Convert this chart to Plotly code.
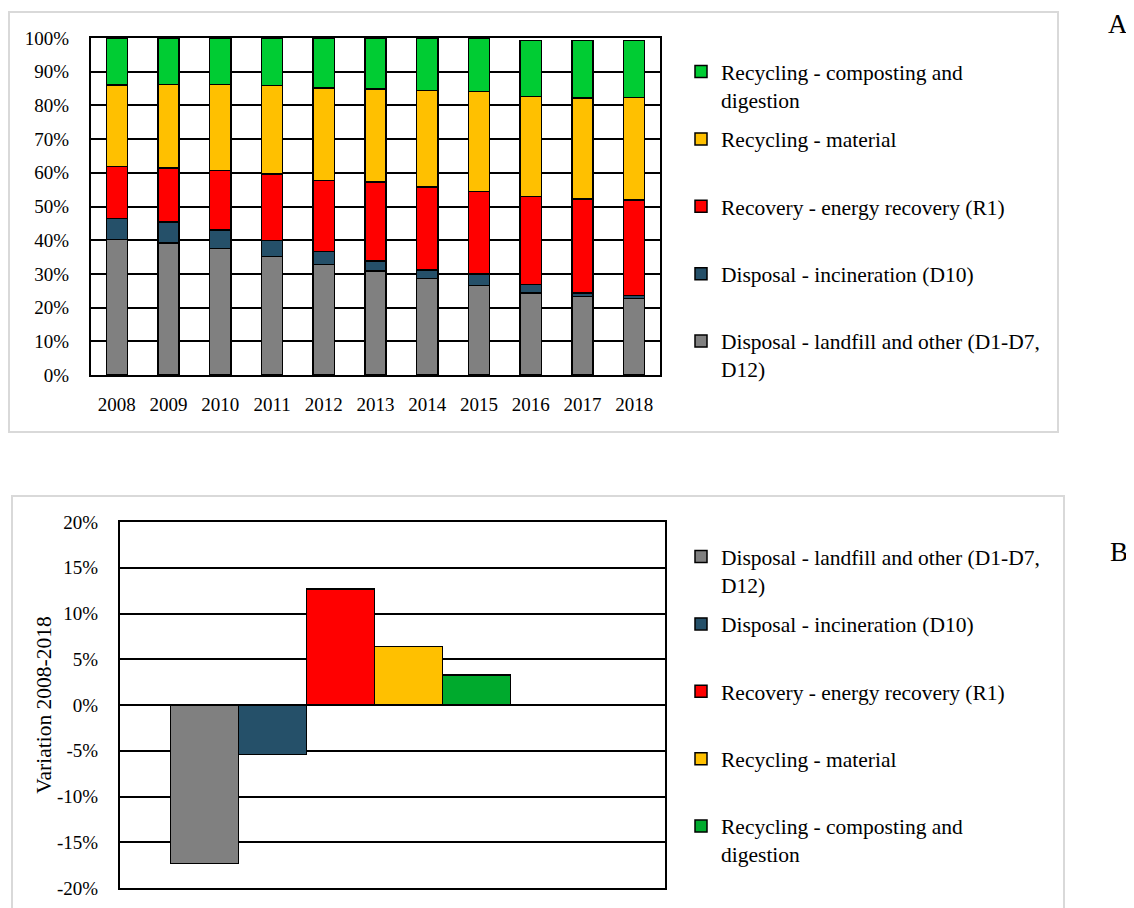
import plotly.graph_objects as go

years = ["2008", "2009", "2010", "2011", "2012", "2013", "2014", "2015", "2016", "2017", "2018"]

landfill = [40.2, 39.1, 37.5, 35.1, 32.8, 30.9, 28.6, 26.6, 24.4, 23.3, 22.7]
incineration = [6.2, 6.3, 5.5, 4.8, 3.9, 3.0, 2.6, 3.3, 2.5, 1.0, 0.9]
energy = [15.5, 16.0, 17.7, 19.8, 21.0, 23.4, 24.6, 24.6, 26.0, 28.0, 28.3]
material = [24.2, 24.8, 25.5, 26.2, 27.5, 27.6, 28.6, 29.7, 29.7, 29.9, 30.4]
composting = [13.9, 13.8, 13.8, 14.1, 14.8, 15.1, 15.6, 15.8, 16.7, 17.1, 17.0]

names = [
    "Disposal - landfill and other (D1-D7,<br>D12)",
    "Disposal - incineration (D10)<br> ",
    "Recovery - energy recovery (R1)<br> ",
    "Recycling - material<br> ",
    "Recycling - composting and<br>digestion",
]
colors_a = ["#808080", "#255069", "#FF0000", "#FFC000", "#00CC33"]
colors_b = ["#808080", "#255069", "#FF0000", "#FFC000", "#00AA2D"]

variation_label = ["Variation 2008-2018"]
variation = [-17.3, -5.4, 12.7, 6.4, 3.3]

ticks_b = [-20, -15, -10, -5, 0, 5, 10, 15, 20]
ticktext_b = ["-20%", "-15%", "-10%", "-5%", "0%", "5%", "10%", "15%", "20%"]

W, H = 1134, 908
OFF = 8  # page body margin
FONT = "Liberation Serif"


def px_x(p):
    return (p - OFF) / W


def px_y(p):
    return 1 - (p - OFF) / H


fig = go.Figure()

series_a = [landfill, incineration, energy, material, composting]
n = len(series_a)
for i, (name, vals, col) in enumerate(zip(names, series_a, colors_a)):
    fig.add_trace(go.Bar(
        x=years, y=vals, name=name, legendgroup=f"a{i}", legendrank=n - i,
        marker=dict(color=col, line=dict(color="black", width=1.5)),
        xaxis="x", yaxis="y", legend="legend", hovertemplate="%{y:.1f}%<extra></extra>",
    ))

for i, (name, val, col) in enumerate(zip(names, variation, colors_b)):
    fig.add_trace(go.Bar(
        x=variation_label, y=[val], name=name, legendgroup=f"b{i}", legendrank=i + 1,
        marker=dict(color=col, line=dict(color="black", width=1.5)),
        xaxis="x2", yaxis="y2", legend="legend2", hovertemplate="%{y:.1f}%<extra></extra>",
        offsetgroup=f"b{i}",
    ))

axis_common = dict(showline=True, mirror=True, linecolor="black", linewidth=2,
                   gridcolor="black", gridwidth=1.5, zeroline=False,
                   tickfont=dict(family=FONT, size=19, color="black"))

legend_common = dict(xanchor="left", yanchor="top", valign="top", traceorder="grouped",
                     font=dict(family=FONT, size=21.5, color="black"),
                     tracegroupgap=8.5, itemwidth=30, bgcolor="rgba(0,0,0,0)")

fig.update_layout(
    width=W, height=H,
    margin=dict(l=0, r=0, t=0, b=0, autoexpand=False),
    paper_bgcolor="white", plot_bgcolor="white",
    font=dict(family=FONT, size=19, color="black"),
    barmode="stack",
    bargap=0.59,
    xaxis=dict(domain=[px_x(91), px_x(660)], anchor="y", showgrid=False,
               showline=True, mirror=True, linecolor="black", linewidth=2,
               tickfont=dict(family=FONT, size=19, color="black"),
               ticks="", ticklabelstandoff=11),
    yaxis=dict(domain=[px_y(375), px_y(38)], anchor="x", range=[0, 100],
               dtick=10, ticksuffix="%", ticklabelstandoff=16, **axis_common),
    xaxis2=dict(domain=[px_x(120), px_x(665)], anchor="y2", showgrid=False,
                showticklabels=False, ticks="", range=[-0.2662, 0.3912],
                showline=True, mirror=True, linecolor="black", linewidth=2),
    yaxis2=dict(domain=[px_y(888), px_y(522)], anchor="x2", range=[-20, 20],
                tickvals=ticks_b, ticktext=ticktext_b, ticklabelstandoff=16,
                title=dict(text="Variation 2008-2018", font=dict(family=FONT, size=21.5), standoff=0),
                **axis_common),
    legend=dict(x=px_x(681), y=px_y(51), **legend_common),
    legend2=dict(x=px_x(681), y=px_y(536), **legend_common),
    showlegend=True,
    shapes=[
        dict(type="rect", xref="paper", yref="paper", x0=px_x(9), x1=px_x(1058),
             y0=px_y(432), y1=px_y(12), line=dict(color="#D9D9D9", width=2), layer="below"),
        dict(type="rect", xref="paper", yref="paper", x0=px_x(12), x1=px_x(1064),
             y0=px_y(940), y1=px_y(496), line=dict(color="#D9D9D9", width=2), layer="below"),
    ],
    annotations=[
        dict(text="A", xref="paper", yref="paper", x=px_x(1118), y=px_y(24),
             xanchor="center", yanchor="middle",
             showarrow=False, font=dict(family=FONT, size=27, color="black")),
        dict(text="B", xref="paper", yref="paper", x=px_x(1119), y=px_y(552),
             xanchor="center", yanchor="middle",
             showarrow=False, font=dict(family=FONT, size=27, color="black")),
    ],
)

fig.write_html("out.html")
